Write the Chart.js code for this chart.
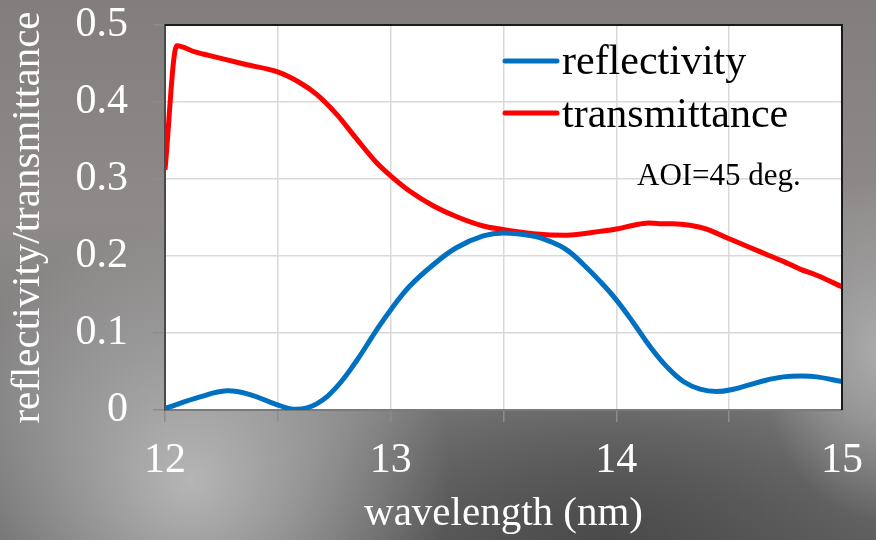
<!DOCTYPE html>
<html>
<head>
<meta charset="utf-8">
<script src="https://cdn.jsdelivr.net/npm/chart.js@4/dist/chart.umd.min.js"></script>
<style>
  html, body { margin: 0; padding: 0; }
  body {
    width: 876px; height: 540px; overflow: hidden;
    background:
      radial-gradient(circle at 190px 480px, rgba(185,185,185,0.95) 0, rgba(185,185,185,0) 260px),
      radial-gradient(ellipse 120px 170px at 880px 350px, rgba(176,176,176,0.9) 0, rgba(176,176,176,0) 100%),
      radial-gradient(ellipse 340px 200px at 610px 545px, rgba(72,72,72,0.95) 0, rgba(72,72,72,0) 100%),
      linear-gradient(180deg, #827e7d 0%, #8d8a89 40%, #7c7b7b 75%, #656565 100%);
  }
  canvas { display: block; }
</style>
</head>
<body>
<canvas id="chart" width="876" height="540"></canvas>
<script>
// Reflectivity of the coating vs wavelength (nm)
const reflWavelength = [12.0, 12.155, 12.273, 12.377, 12.495, 12.583, 12.672, 12.761, 12.849, 12.938, 13.0, 13.085, 13.19, 13.293, 13.41, 13.499, 13.632, 13.706, 13.78, 13.854, 13.928, 14.0, 14.076, 14.15, 14.224, 14.297, 14.371, 14.445, 14.519, 14.593, 14.667, 14.741, 14.815, 14.888, 15.0];
const reflValues     = [0.002, 0.017, 0.025, 0.020, 0.007, 0.001, 0.008, 0.030, 0.064, 0.104, 0.130, 0.161, 0.189, 0.211, 0.226, 0.230, 0.226, 0.219, 0.208, 0.189, 0.167, 0.143, 0.113, 0.082, 0.056, 0.037, 0.027, 0.024, 0.027, 0.033, 0.039, 0.043, 0.044, 0.043, 0.037];

// Transmittance vs wavelength (nm)
const transWavelength = [12.0, 12.052, 12.133, 12.229, 12.354, 12.499, 12.598, 12.672, 12.761, 12.849, 12.938, 13.0, 13.085, 13.19, 13.293, 13.41, 13.484, 13.632, 13.78, 13.928, 14.0, 14.076, 14.142, 14.193, 14.252, 14.326, 14.4, 14.503, 14.592, 14.666, 14.74, 14.814, 14.888, 15.0];
const transValues     = [0.312, 0.473, 0.465, 0.458, 0.449, 0.439, 0.425, 0.410, 0.384, 0.352, 0.321, 0.304, 0.284, 0.265, 0.251, 0.239, 0.235, 0.229, 0.227, 0.232, 0.235, 0.240, 0.243, 0.242, 0.242, 0.240, 0.235, 0.222, 0.211, 0.202, 0.193, 0.183, 0.175, 0.160];

const seriesLabels = ['reflectivity', 'transmittance'];
const seriesColors = ['#0070c0', '#ff0000'];
const noteText = 'AOI=45 deg.';

const toPoints = (xs, ys) => xs.map((x, i) => ({ x: x, y: ys[i] }));

const SERIF = "'Liberation Serif', 'Times New Roman', serif";

// white plotting area plus black frame on top and right
const plotFrame = {
  id: 'plotFrame',
  beforeDraw(chart) {
    const { ctx, chartArea: a } = chart;
    ctx.save();
    ctx.fillStyle = '#ffffff';
    ctx.fillRect(a.left, a.top, a.right - a.left, a.bottom - a.top);
    ctx.restore();
  },
  afterDraw(chart) {
    const { ctx, chartArea: a } = chart;
    ctx.save();
    ctx.strokeStyle = '#1a1a1a';
    ctx.lineWidth = 2;
    ctx.beginPath();
    ctx.moveTo(a.left, a.top);
    ctx.lineTo(a.right, a.top);
    ctx.lineTo(a.right, a.bottom);
    ctx.stroke();
    ctx.restore();
  }
};

// legend inside the plot, plus the incidence-angle note
const insideLegend = {
  id: 'insideLegend',
  afterDatasetsDraw(chart) {
    const { ctx } = chart;
    ctx.save();
    ctx.font = '42px ' + SERIF;
    ctx.textBaseline = 'alphabetic';
    ctx.textAlign = 'left';
    const rows = [{ lineY: 61, baseY: 74 }, { lineY: 113, baseY: 127 }];
    chart.data.datasets.forEach((ds, i) => {
      const r = rows[i];
      ctx.strokeStyle = ds.borderColor;
      ctx.lineWidth = 5;
      ctx.lineCap = 'round';
      ctx.beginPath();
      ctx.moveTo(505, r.lineY);
      ctx.lineTo(557, r.lineY);
      ctx.stroke();
      ctx.fillStyle = '#000000';
      ctx.fillText(ds.label, 562, r.baseY);
    });
    ctx.font = '31px ' + SERIF;
    ctx.fillText(noteText, 637, 185);
    ctx.restore();
  }
};

new Chart(document.getElementById('chart'), {
  type: 'line',
  data: {
    datasets: [
      { label: seriesLabels[0], data: toPoints(reflWavelength, reflValues), borderColor: seriesColors[0], backgroundColor: seriesColors[0], tension: 0.4 },
      { label: seriesLabels[1], data: toPoints(transWavelength, transValues), borderColor: seriesColors[1], backgroundColor: seriesColors[1], cubicInterpolationMode: 'monotone' }
    ]
  },
  options: {
    responsive: false,
    animation: false,
    layout: { padding: { top: 25, right: 34, left: 0, bottom: 0 } },
    elements: {
      point: { radius: 0 },
      line: { borderWidth: 5, borderCapStyle: 'butt', borderJoinStyle: 'round' }
    },
    plugins: { legend: { display: false }, tooltip: { enabled: false } },
    scales: {
      x: {
        type: 'linear', min: 12, max: 15,
        afterFit: s => { s.height = 130; s.paddingLeft = 0; s.paddingRight = 0; },
        border: { color: '#7a7a7a', width: 2 },
        grid: { color: '#d9d9d9', lineWidth: 1.5, tickColor: '#8c8c8c', tickLength: 12 },
        ticks: {
          stepSize: 0.5, autoSkip: false, maxRotation: 0, padding: 14,
          color: '#ffffff', font: { family: SERIF, size: 42 },
          callback: v => Number.isInteger(v) ? String(v) : ''
        },
        title: { display: true, text: 'wavelength (nm)', color: '#ffffff', font: { family: SERIF, size: 41 }, padding: { top: 0, bottom: 1 } }
      },
      y: {
        min: 0, max: 0.5,
        afterFit: s => { s.width = 165; s.paddingTop = 0; s.paddingBottom = 0; },
        border: { color: '#4a4a4a', width: 2 },
        grid: { color: '#d9d9d9', lineWidth: 1.5, tickColor: '#8c8c8c', tickLength: 12 },
        ticks: {
          stepSize: 0.1, padding: 25,
          color: '#ffffff', font: { family: SERIF, size: 42 },
          callback: v => v === 0 ? '0' : v.toFixed(1)
        },
        title: { display: true, text: 'reflectivity/transmittance', color: '#ffffff', font: { family: SERIF, size: 41 }, padding: { top: 4, bottom: 0 } }
      }
    }
  },
  plugins: [plotFrame, insideLegend]
});
</script>
</body>
</html>
